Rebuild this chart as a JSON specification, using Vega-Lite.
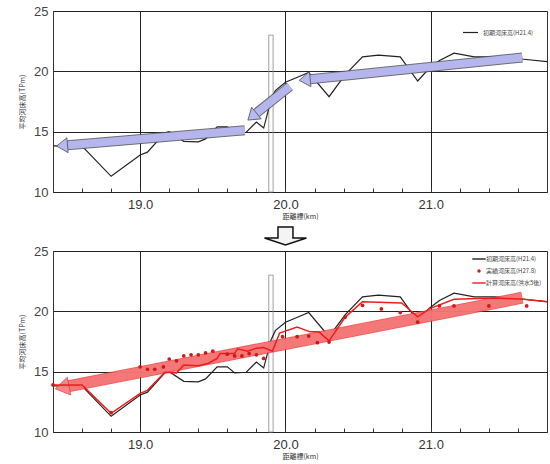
{
  "$schema": "https://vega.github.io/schema/vega-lite/v6.json",
  "padding": {"left": 18, "top": 4, "right": 0, "bottom": 0},
  "background": "white",
  "spacing": 3,
  "config": {
    "font": "Liberation Sans",
    "view": {"stroke": "#333", "strokeWidth": 1},
    "axis": {"titleFont": "Noto Sans CJK JP", "titleFontWeight": "normal", "titleFontSize": 7, "titleColor": "#333", "labelColor": "#444", "labelFontSize": 13, "labelOverlap": false},
    "legend": {"labelFont": "Noto Sans CJK JP", "labelFontSize": 6, "labelColor": "#444"}
  },
  "resolve": {"scale": {"color": "independent"}, "legend": {"color": "independent"}},
  "datasets": {
    "bed": [
      {"km": 18.4, "z": 13.82}, {"km": 18.6, "z": 13.8}, {"km": 18.8, "z": 11.3}, {"km": 19.0, "z": 13.07},
      {"km": 19.05, "z": 13.3}, {"km": 19.17, "z": 14.9}, {"km": 19.2, "z": 15.0}, {"km": 19.3, "z": 14.2},
      {"km": 19.4, "z": 14.15}, {"km": 19.45, "z": 14.4}, {"km": 19.53, "z": 15.4}, {"km": 19.6, "z": 15.4},
      {"km": 19.65, "z": 14.9}, {"km": 19.73, "z": 14.95}, {"km": 19.8, "z": 15.8}, {"km": 19.85, "z": 15.3},
      {"km": 19.9, "z": 17.6}, {"km": 19.93, "z": 18.4}, {"km": 20.0, "z": 19.1}, {"km": 20.07, "z": 19.45},
      {"km": 20.16, "z": 19.9}, {"km": 20.3, "z": 17.9}, {"km": 20.41, "z": 19.7}, {"km": 20.53, "z": 21.2},
      {"km": 20.64, "z": 21.35}, {"km": 20.79, "z": 21.2}, {"km": 20.91, "z": 19.2}, {"km": 20.99, "z": 20.25},
      {"km": 21.06, "z": 20.9}, {"km": 21.16, "z": 21.5}, {"km": 21.3, "z": 21.2}, {"km": 21.44, "z": 21.2},
      {"km": 21.64, "z": 21.0}, {"km": 21.8, "z": 20.8}
    ],
    "calc": [
      {"km": 18.4, "z": 13.9}, {"km": 18.6, "z": 13.9}, {"km": 18.8, "z": 11.55}, {"km": 19.0, "z": 13.2},
      {"km": 19.05, "z": 13.45}, {"km": 19.17, "z": 14.95}, {"km": 19.25, "z": 14.9}, {"km": 19.3, "z": 15.55},
      {"km": 19.4, "z": 15.5}, {"km": 19.47, "z": 15.7}, {"km": 19.53, "z": 16.1}, {"km": 19.55, "z": 16.5},
      {"km": 19.65, "z": 16.5}, {"km": 19.67, "z": 16.9}, {"km": 19.74, "z": 16.7}, {"km": 19.8, "z": 16.95},
      {"km": 19.85, "z": 17.0}, {"km": 19.91, "z": 16.7}, {"km": 19.96, "z": 18.2}, {"km": 20.08, "z": 18.7},
      {"km": 20.17, "z": 18.3}, {"km": 20.23, "z": 18.3}, {"km": 20.3, "z": 17.55}, {"km": 20.41, "z": 19.5},
      {"km": 20.53, "z": 20.8}, {"km": 20.8, "z": 20.7}, {"km": 20.91, "z": 19.55}, {"km": 20.99, "z": 20.2},
      {"km": 21.16, "z": 21.0}, {"km": 21.44, "z": 21.1}, {"km": 21.64, "z": 21.0}, {"km": 21.8, "z": 20.8}
    ],
    "obs": [
      {"km": 18.4, "z": 13.9}, {"km": 18.8, "z": 11.6}, {"km": 19.0, "z": 15.4}, {"km": 19.05, "z": 15.2},
      {"km": 19.1, "z": 15.2}, {"km": 19.16, "z": 15.4}, {"km": 19.2, "z": 16.05}, {"km": 19.25, "z": 15.9},
      {"km": 19.3, "z": 16.3}, {"km": 19.35, "z": 16.4}, {"km": 19.4, "z": 16.4}, {"km": 19.45, "z": 16.55},
      {"km": 19.5, "z": 16.7}, {"km": 19.6, "z": 16.45}, {"km": 19.65, "z": 16.3}, {"km": 19.7, "z": 16.3},
      {"km": 19.75, "z": 16.5}, {"km": 19.8, "z": 16.4}, {"km": 19.85, "z": 16.1}, {"km": 19.98, "z": 17.9},
      {"km": 20.08, "z": 17.9}, {"km": 20.16, "z": 17.95}, {"km": 20.22, "z": 17.4}, {"km": 20.3, "z": 17.45},
      {"km": 20.41, "z": 19.5}, {"km": 20.53, "z": 20.5}, {"km": 20.66, "z": 20.2}, {"km": 20.79, "z": 19.9},
      {"km": 20.91, "z": 19.1}, {"km": 21.06, "z": 20.45}, {"km": 21.16, "z": 20.45}, {"km": 21.4, "z": 20.45},
      {"km": 21.66, "z": 20.45}
    ],
    "bandsTop": [
      {"arrow": "a1", "km": 18.5, "z": 13.88}, {"arrow": "a1", "km": 19.72, "z": 15.12},
      {"arrow": "a2", "km": 19.8, "z": 16.54}, {"arrow": "a2", "km": 20.03, "z": 18.75},
      {"arrow": "a3", "km": 20.17, "z": 19.35}, {"arrow": "a3", "km": 21.63, "z": 21.15}
    ],
    "headsTop": [
      {"arrow": "a1", "km": 18.5, "z": 13.88},
      {"arrow": "a2", "km": 19.8, "z": 16.54},
      {"arrow": "a3", "km": 20.17, "z": 19.35}
    ],
    "bandBot": [
      {"arrow": "r", "km": 18.51, "z": 13.8}, {"arrow": "r", "km": 21.63, "z": 21.13}
    ],
    "bridge": [{"x1": 19.885, "x2": 19.915, "y1": 10, "y2": 23}],
    "down": [{"km": 20.0, "z": 26.24}]
  },
  "vconcat": [
    {
      "width": 494,
      "height": 181,
      "layer": [
        {
          "data": {"name": "bridge"},
          "mark": {"type": "rect", "fill": "transparent", "stroke": "#888", "strokeWidth": 0.8},
          "encoding": {
            "x": {"field": "x1", "type": "quantitative", "scale": {"domain": [18.4, 21.8], "nice": false, "zero": false},
              "axis": {"values": [18.6, 18.8, 19, 19.2, 19.4, 19.6, 19.8, 20, 20.2, 20.4, 20.6, 20.8, 21, 21.2, 21.4, 21.6], "tickCount": 100,
                "labelExpr": "datum.value % 1 === 0 ? format(datum.value, '.1f') : ''",
                "tickSize": -4, "tickColor": "#333", "labelPadding": 10, "labelColor": "#333",
                "grid": true, "gridColor": "#222", "gridWidth": 1, "gridOpacity": {"condition": {"test": "datum.value % 1 === 0", "value": 1}, "value": 0},
                "domain": false, "title": "距離標(km)", "titlePadding": 1}},
            "x2": {"field": "x2"},
            "y": {"field": "y1", "type": "quantitative", "scale": {"domain": [10, 25], "nice": false, "zero": false},
              "axis": {"values": [10, 15, 20, 25], "ticks": false, "domain": false, "grid": true, "gridColor": "#222", "gridWidth": 1, "labelPadding": 5, "title": "平均河床高(TPm)", "titlePadding": 8}},
            "y2": {"field": "y2"}
          }
        },
        {
          "data": {"name": "bed"},
          "mark": {"type": "line", "strokeWidth": 1.2},
          "encoding": {
            "x": {"field": "km", "type": "quantitative"},
            "y": {"field": "z", "type": "quantitative"},
            "color": {"datum": "初期河床高(H21.4)", "scale": {"domain": ["初期河床高(H21.4)"], "range": ["#222"]},
              "legend": {"title": null, "orient": "top-right", "offset": 13, "padding": 0, "symbolType": "stroke", "symbolSize": 225, "symbolStrokeWidth": 1.2}}
          }
        },
        {
          "data": {"name": "bandsTop"},
          "mark": {"type": "line", "strokeWidth": 10, "color": "#555", "strokeCap": "butt", "opacity": 0.85},
          "encoding": {
            "x": {"field": "km", "type": "quantitative"},
            "y": {"field": "z", "type": "quantitative"},
            "detail": {"field": "arrow"}
          }
        },
        {
          "data": {"name": "bandsTop"},
          "mark": {"type": "line", "strokeWidth": 8, "color": "#b7b9f3", "strokeCap": "butt", "opacity": 0.95},
          "encoding": {
            "x": {"field": "km", "type": "quantitative"},
            "y": {"field": "z", "type": "quantitative"},
            "detail": {"field": "arrow"}
          }
        },
        {
          "data": {"name": "headsTop"},
          "transform": [{"filter": "datum.arrow === 'a1'"}],
          "mark": {"type": "point", "shape": "M-1.47,0 L0,-1 L0,1 Z", "size": 225, "filled": true, "fill": "#b7b9f3", "stroke": "#555", "strokeWidth": 0.8, "opacity": 1, "angle": 355.2},
          "encoding": {"x": {"field": "km", "type": "quantitative"}, "y": {"field": "z", "type": "quantitative"}}
        },
        {
          "data": {"name": "headsTop"},
          "transform": [{"filter": "datum.arrow === 'a2'"}],
          "mark": {"type": "point", "shape": "M-1.47,0 L0,-1 L0,1 Z", "size": 225, "filled": true, "fill": "#b7b9f3", "stroke": "#555", "strokeWidth": 0.8, "opacity": 1, "angle": 320.5},
          "encoding": {"x": {"field": "km", "type": "quantitative"}, "y": {"field": "z", "type": "quantitative"}}
        },
        {
          "data": {"name": "headsTop"},
          "transform": [{"filter": "datum.arrow === 'a3'"}],
          "mark": {"type": "point", "shape": "M-1.47,0 L0,-1 L0,1 Z", "size": 225, "filled": true, "fill": "#b7b9f3", "stroke": "#555", "strokeWidth": 0.8, "opacity": 1, "angle": 354.2},
          "encoding": {"x": {"field": "km", "type": "quantitative"}, "y": {"field": "z", "type": "quantitative"}}
        }
      ]
    },
    {
      "width": 494,
      "height": 181,
      "layer": [
        {
          "data": {"name": "bridge"},
          "mark": {"type": "rect", "fill": "transparent", "stroke": "#888", "strokeWidth": 0.8},
          "encoding": {
            "x": {"field": "x1", "type": "quantitative", "scale": {"domain": [18.4, 21.8], "nice": false, "zero": false},
              "axis": {"values": [18.6, 18.8, 19, 19.2, 19.4, 19.6, 19.8, 20, 20.2, 20.4, 20.6, 20.8, 21, 21.2, 21.4, 21.6], "tickCount": 100,
                "labelExpr": "datum.value % 1 === 0 ? format(datum.value, '.1f') : ''",
                "tickSize": -4, "tickColor": "#333", "labelPadding": 10, "labelColor": "#333",
                "grid": true, "gridColor": "#222", "gridWidth": 1, "gridOpacity": {"condition": {"test": "datum.value % 1 === 0", "value": 1}, "value": 0},
                "domain": false, "title": "距離標(km)", "titlePadding": 1}},
            "x2": {"field": "x2"},
            "y": {"field": "y1", "type": "quantitative", "scale": {"domain": [10, 25], "nice": false, "zero": false},
              "axis": {"values": [10, 15, 20, 25], "ticks": false, "domain": false, "grid": true, "gridColor": "#222", "gridWidth": 1, "labelPadding": 5, "title": "平均河床高(TPm)", "titlePadding": 8}},
            "y2": {"field": "y2"}
          }
        },
        {
          "data": {"name": "bed"},
          "mark": {"type": "line", "strokeWidth": 1.2},
          "encoding": {
            "x": {"field": "km", "type": "quantitative"},
            "y": {"field": "z", "type": "quantitative"},
            "color": {"datum": "初期河床高(H21.4)", "scale": {"domain": ["初期河床高(H21.4)", "実績河床高(H27.8)", "計算河床高(洪水5後)"], "range": ["#222", "#d01818", "#ee1c1c"]},
              "legend": {"title": null, "orient": "top-right", "offset": 5, "padding": 0, "rowPadding": 6, "symbolType": "stroke", "symbolSize": 180, "symbolStrokeWidth": 1.4,
                "encode": {"symbols": {"update": {
                  "shape": {"signal": "datum.value === '実績河床高(H27.8)' ? 'circle' : 'stroke'"},
                  "size": {"signal": "datum.value === '実績河床高(H27.8)' ? 12 : 180"},
                  "fill": {"signal": "datum.value === '実績河床高(H27.8)' ? '#d01818' : 'transparent'"},
                  "strokeWidth": {"signal": "datum.value === '実績河床高(H27.8)' ? 0 : 1.4"}
                }}}}}
          }
        },
        {
          "data": {"name": "bandBot"},
          "mark": {"type": "line", "strokeWidth": 12, "color": "#e83a3a", "strokeCap": "butt", "opacity": 0.8},
          "encoding": {
            "x": {"field": "km", "type": "quantitative"},
            "y": {"field": "z", "type": "quantitative"},
            "detail": {"field": "arrow"}
          }
        },
        {
          "data": {"name": "bandBot"},
          "mark": {"type": "line", "strokeWidth": 10, "color": "#f47c7c", "strokeCap": "butt", "opacity": 0.85},
          "encoding": {
            "x": {"field": "km", "type": "quantitative"},
            "y": {"field": "z", "type": "quantitative"},
            "detail": {"field": "arrow"}
          }
        },
        {
          "data": {"name": "bandBot"},
          "transform": [{"filter": "datum.km < 19"}],
          "mark": {"type": "point", "shape": "M-1.55,0 L0,-1 L0,1 Z", "size": 324, "filled": true, "fill": "#f47c7c", "stroke": "#e83a3a", "strokeWidth": 0.8, "opacity": 0.9, "angle": 349},
          "encoding": {"x": {"field": "km", "type": "quantitative"}, "y": {"field": "z", "type": "quantitative"}}
        },
        {
          "data": {"name": "calc"},
          "mark": {"type": "line", "strokeWidth": 1.5},
          "encoding": {
            "x": {"field": "km", "type": "quantitative"},
            "y": {"field": "z", "type": "quantitative"},
            "color": {"datum": "計算河床高(洪水5後)"}
          }
        },
        {
          "data": {"name": "obs"},
          "mark": {"type": "point", "filled": true, "size": 14, "opacity": 1},
          "encoding": {
            "x": {"field": "km", "type": "quantitative"},
            "y": {"field": "z", "type": "quantitative"},
            "color": {"datum": "実績河床高(H27.8)"}
          }
        },
        {
          "data": {"name": "down"},
          "mark": {"type": "point", "shape": "M-0.357,-0.43 L0.357,-0.43 L0.357,0.095 L1,0.095 L0,0.43 L-1,0.095 L-0.357,0.095 Z", "size": 1764, "filled": true, "fill": "#f4f4f4", "stroke": "#111", "strokeWidth": 1.5, "opacity": 1},
          "encoding": {"x": {"field": "km", "type": "quantitative"}, "y": {"field": "z", "type": "quantitative"}}
        }
      ]
    }
  ]
}
